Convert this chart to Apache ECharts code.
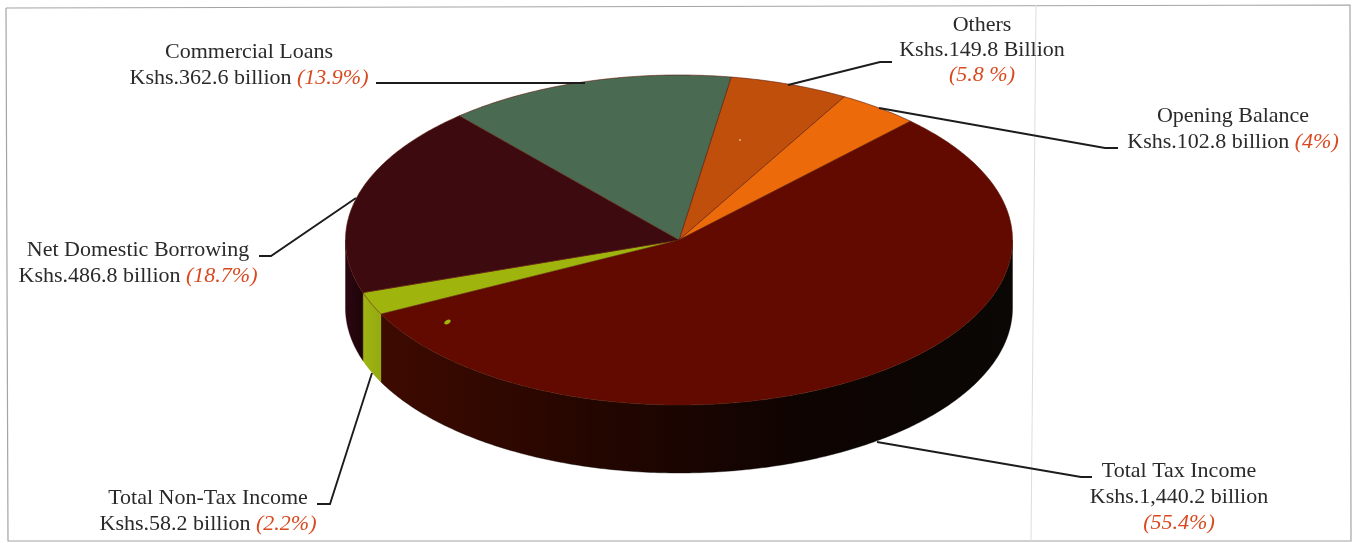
<!DOCTYPE html>
<html>
<head>
<meta charset="utf-8">
<style>html,body{margin:0;padding:0;background:#fff}#c{width:1357px;height:543px}</style>
<script src="https://cdn.jsdelivr.net/npm/echarts@6/dist/echarts.min.js"></script>
</head>
<body>
<div id="c"></div>
<script>
// ---- data, clockwise from the pie's start angle ----
const categories = ['Others', 'Opening Balance', 'Total Tax Income', 'Total Non-Tax Income', 'Net Domestic Borrowing', 'Commercial Loans'];
const values = [149.8, 102.8, 1440.2, 58.2, 486.8, 362.6];
const amounts = ['Kshs.149.8 Billion', 'Kshs.102.8 billion', 'Kshs.1,440.2 billion', 'Kshs.58.2 billion', 'Kshs.486.8 billion', 'Kshs.362.6 billion'];
const shares = ['(5.8 %)', '(4%)', '(55.4%)', '(2.2%)', '(18.7%)', '(13.9%)'];

// ---- styles and layout ----
const topColors = ['#c04f0c', '#ec6a0a', '#620a00', '#9fb50e', '#3d0a10', '#4a6b52'];
const wallStops = [
  ['#5a2006', '#5a2006'], ['#5a2006', '#5a2006'],
  ['#3e0a00', '#240600', '#0e0402', '#0a0704'],
  ['#a0b412', '#94aa10'],
  ['#2c0612', '#1e0408'], ['#26060a', '#26060a']
];
const pie = {cx: 679, cy: 240, rx: 333.5, ry: 165, depth: 68, start: 9};
const labelLayout = [
  {x: 982, ys: [25, 50, 75], split: true},
  {x: 1233, ys: [116, 142]},
  {x: 1179, ys: [471, 497, 523], split: true},
  {x: 208, ys: [498, 524]},
  {x: 138, ys: [250, 276]},
  {x: 249, ys: [52, 78]}
];
const leaders = [
  [[892, 62], [880, 62], [788, 85]],
  [[1118, 148], [1105, 148], [879, 108]],
  [[1092, 477], [1081, 477], [877, 442]],
  [[317, 504], [330, 504], [372, 373]],
  [[259, 256], [271, 256], [356, 198]],
  [[376, 83], [585, 83]]
];
const FONT = '"Liberation Serif", "Times New Roman", serif';
const FS = 22;
const total = values.reduce((a, b) => a + b, 0);

function rim(deg, dy) {
  const t = deg * Math.PI / 180;
  return [pie.cx + pie.rx * Math.sin(t), pie.cy - pie.ry * Math.cos(t) + (dy || 0)];
}
function arc(a, b, dy) {
  const n = Math.max(2, Math.ceil(Math.abs(b - a) * 1.5)), pts = [];
  for (let i = 0; i <= n; i++) pts.push(rim(a + (b - a) * i / n, dy));
  return pts;
}
function sliceAngles(i) {
  const before = values.slice(0, i).reduce((a, b) => a + b, 0);
  return [pie.start + before / total * 360, pie.start + (before + values[i]) / total * 360];
}

function renderSlice(params, api) {
  const i = api.value(0);
  const [a, b] = sliceAngles(i);
  const children = [];
  const wa = Math.max(a, 90), wb = Math.min(b, 270);
  if (wb > wa) {
    const top = arc(wa, wb, 0), bottom = arc(wb, wa, pie.depth);
    const x0 = Math.min(top[0][0], top[top.length - 1][0]);
    const x1 = Math.max(top[0][0], top[top.length - 1][0]);
    const st = wallStops[i];
    children.push({
      type: 'polygon', silent: true,
      shape: {points: top.concat(bottom)},
      style: {
        fill: new echarts.graphic.LinearGradient(x0, 0, x1, 0,
          st.map((c, k) => ({offset: k / (st.length - 1), color: c})), true),
        stroke: st[st.length - 1], lineWidth: 0.4
      }
    });
  }
  children.push({
    type: 'polygon', silent: true,
    shape: {points: [[pie.cx, pie.cy]].concat(arc(a, b, 0))},
    style: {fill: topColors[i], stroke: '#5a1a08', lineWidth: 0.6}
  });
  return {type: 'group', children};
}

const graphics = [];
// page frame and fold line of the scanned original
graphics.push({type: 'polyline', silent: true, shape: {points: [[6, 8], [1350, 5], [1351, 541], [8, 541], [6, 8]]},
  style: {stroke: '#a4a4a4', lineWidth: 1.2, fill: null}, z: 1});
graphics.push({type: 'line', silent: true, shape: {x1: 1036, y1: 5, x2: 1031, y2: 541},
  style: {stroke: '#e2dcdc', lineWidth: 1}, z: 1});
// small specks on the slices
graphics.push({type: 'ellipse', silent: true, shape: {cx: 447.5, cy: 322, rx: 3.5, ry: 2},
  style: {fill: '#9fb50e'}, z: 20, rotation: 0.5, originX: 447.5, originY: 322});
graphics.push({type: 'circle', silent: true, shape: {cx: 740, cy: 140, r: 1},
  style: {fill: '#e8b070'}, z: 20});

leaders.forEach(pts => graphics.push({
  type: 'polyline', silent: true, shape: {points: pts},
  style: {stroke: '#1c1c1c', lineWidth: 1.9, fill: null}, z: 30
}));

categories.forEach((name, i) => {
  const L = labelLayout[i];
  const base = {textAlign: 'center', textVerticalAlign: 'middle', font: FS + 'px ' + FONT};
  graphics.push({type: 'text', silent: true, z: 40, x: L.x, y: L.ys[0],
    style: Object.assign({}, base, {text: name, fill: '#2a2a2a'})});
  if (L.split) {
    graphics.push({type: 'text', silent: true, z: 40, x: L.x, y: L.ys[1],
      style: Object.assign({}, base, {text: amounts[i], fill: '#2a2a2a'})});
    graphics.push({type: 'text', silent: true, z: 40, x: L.x, y: L.ys[2],
      style: Object.assign({}, base, {text: shares[i], fill: '#d9491f', font: 'italic ' + FS + 'px ' + FONT})});
  } else {
    graphics.push({type: 'text', silent: true, z: 40, x: L.x, y: L.ys[1],
      style: {
        text: '{a|' + amounts[i] + ' }{p|' + shares[i] + '}',
        textAlign: 'center', textVerticalAlign: 'middle', font: FS + 'px ' + FONT,
        rich: {
          a: {fontSize: FS, fontFamily: FONT, fill: '#2a2a2a', color: '#2a2a2a'},
          p: {fontStyle: 'italic', fontSize: FS, fontFamily: FONT, fill: '#d9491f', color: '#d9491f'}
        }
      }});
  }
});

const chart = echarts.init(document.getElementById('c'), null, {renderer: 'canvas'});
chart.setOption({
  animation: false,
  backgroundColor: '#ffffff',
  graphic: {elements: graphics},
  series: [{
    type: 'custom',
    coordinateSystem: 'none',
    silent: true,
    renderItem: renderSlice,
    data: values.map((v, i) => [i, v, categories[i]]),
    z: 10
  }]
});
</script>
</body>
</html>
